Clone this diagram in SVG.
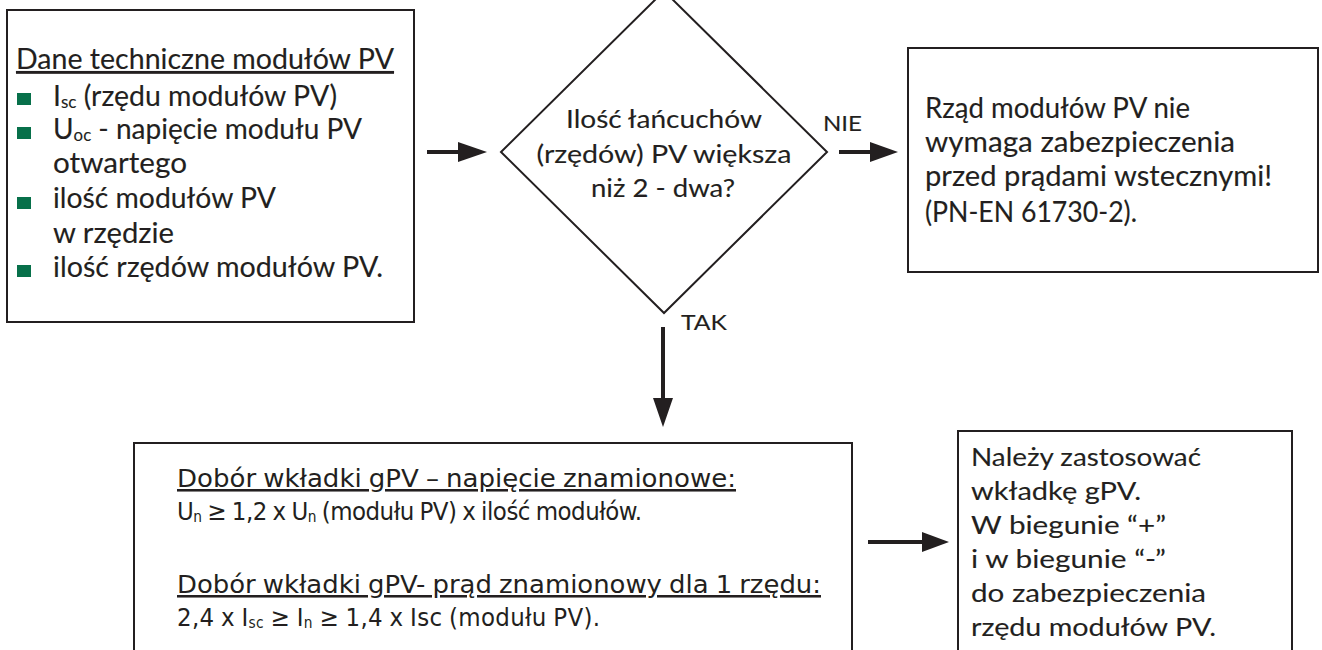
<svg xmlns="http://www.w3.org/2000/svg" width="1322" height="650" viewBox="0 0 1322 650">
  <style>
    .box { fill: #ffffff; stroke: #231f20; stroke-width: 2; }
    .t { font-family: "Lato", "Open Sans", "DejaVu Sans", sans-serif; fill: #231f20; stroke: #231f20; stroke-width: 0.12; }
    .big { font-size: 28px; }
    .mid { font-size: 25.5px; }
    .lbl { font-size: 22px; }
    .cond { font-family: "DejaVu Sans Condensed", "Liberation Sans", sans-serif; font-size: 25.5px; fill: #231f20; word-spacing: -1px; }
    .u { text-decoration: underline; }
    .bullet { fill: #07704a; }
    .sub { font-size: 60%; }
    .conn line { stroke: #231f20; stroke-width: 4; }
    .conn polygon { fill: #231f20; }
  </style>

  <rect width="1322" height="650" fill="#ffffff"/>

  <!-- input data box -->
  <g id="node-dane">
    <rect class="box" x="7" y="10" width="407" height="312"/>
    <text class="t big u" x="16" y="69" textLength="378" lengthAdjust="spacingAndGlyphs">Dane techniczne modułów PV</text>
    <rect class="bullet" x="17" y="93" width="14" height="12"/>
    <rect class="bullet" x="17" y="127" width="14" height="12"/>
    <rect class="bullet" x="17" y="197" width="14" height="12"/>
    <rect class="bullet" x="17" y="265" width="14" height="12"/>
    <text class="t big" x="53" y="106" textLength="284" lengthAdjust="spacingAndGlyphs">I<tspan class="sub" dy="2">sc</tspan><tspan dy="-2"> (rzędu modułów PV)</tspan></text>
    <text class="t big" x="53" y="139" textLength="309" lengthAdjust="spacingAndGlyphs">U<tspan class="sub" dy="2">oc</tspan><tspan dy="-2"> - napięcie modułu PV</tspan></text>
    <text class="t big" x="53" y="173" textLength="134" lengthAdjust="spacingAndGlyphs">otwartego</text>
    <text class="t big" x="53" y="208" textLength="223" lengthAdjust="spacingAndGlyphs">ilość modułów PV</text>
    <text class="t big" x="53" y="243" textLength="121" lengthAdjust="spacingAndGlyphs">w rzędzie</text>
    <text class="t big" x="53" y="277" textLength="330" lengthAdjust="spacingAndGlyphs">ilość rzędów modułów PV.</text>
  </g>

  <!-- decision -->
  <g id="node-decyzja">
    <polygon class="box" points="664,-9 827,152 664,313 501,152"/>
    <text class="t mid" x="664" y="128" text-anchor="middle" textLength="196" lengthAdjust="spacingAndGlyphs">Ilość łańcuchów</text>
    <text class="t mid" x="664" y="163" text-anchor="middle" textLength="255" lengthAdjust="spacingAndGlyphs">(rzędów) PV większa</text>
    <text class="t mid" x="663" y="197" text-anchor="middle" textLength="144" lengthAdjust="spacingAndGlyphs">niż 2 - dwa?</text>
  </g>

  <!-- NIE branch result -->
  <g id="node-nie">
    <rect class="box" x="908" y="48" width="410" height="224"/>
    <text class="t big" x="925" y="118" textLength="265" lengthAdjust="spacingAndGlyphs">Rząd modułów PV nie</text>
    <text class="t big" x="925" y="152" textLength="310" lengthAdjust="spacingAndGlyphs">wymaga zabezpieczenia</text>
    <text class="t big" x="925" y="186" textLength="347" lengthAdjust="spacingAndGlyphs">przed prądami wstecznymi!</text>
    <text class="t big" x="925" y="222" textLength="212" lengthAdjust="spacingAndGlyphs">(PN-EN 61730-2).</text>
  </g>

  <!-- fuse selection -->
  <g id="node-dobor">
    <rect class="box" x="134" y="443" width="718" height="230"/>
    <text class="cond u" x="177" y="487" textLength="559" lengthAdjust="spacingAndGlyphs">Dobór wkładki gPV – napięcie znamionowe:</text>
    <text class="cond" x="177" y="520" textLength="465" lengthAdjust="spacing">U<tspan class="sub" dy="2">n</tspan><tspan dy="-2"> ≥ 1,2 x U</tspan><tspan class="sub" dy="2">n</tspan><tspan dy="-2"> (modułu PV) x ilość modułów.</tspan></text>
    <text class="cond u" x="177" y="593" textLength="644" lengthAdjust="spacingAndGlyphs">Dobór wkładki gPV- prąd znamionowy dla 1 rzędu:</text>
    <text class="cond" x="177" y="626" textLength="423" lengthAdjust="spacing">2,4 x I<tspan class="sub" dy="2">sc</tspan><tspan dy="-2"> ≥ I</tspan><tspan class="sub" dy="2">n</tspan><tspan dy="-2"> ≥ 1,4 x Isc (modułu PV).</tspan></text>
  </g>

  <!-- final recommendation -->
  <g id="node-wkladka">
    <rect class="box" x="958" y="431" width="334" height="240"/>
    <text class="t mid" x="971" y="466" textLength="230" lengthAdjust="spacingAndGlyphs">Należy zastosować</text>
    <text class="t mid" x="971" y="500" textLength="170" lengthAdjust="spacingAndGlyphs">wkładkę gPV.</text>
    <text class="t mid" x="971" y="534" textLength="195" lengthAdjust="spacingAndGlyphs">W biegunie “+”</text>
    <text class="t mid" x="971" y="568" textLength="195" lengthAdjust="spacingAndGlyphs">i w biegunie “-”</text>
    <text class="t mid" x="971" y="602" textLength="235" lengthAdjust="spacingAndGlyphs">do zabezpieczenia</text>
    <text class="t mid" x="971" y="636" textLength="245" lengthAdjust="spacingAndGlyphs">rzędu modułów PV.</text>
  </g>

  <!-- connectors -->
  <g id="connectors" class="conn">
    <line x1="427" y1="152" x2="460" y2="152"/>
    <polygon points="458,142 487,152 458,162"/>

    <line x1="839" y1="152" x2="872" y2="152"/>
    <polygon points="870,142 898,152 870,162"/>

    <line x1="663" y1="327" x2="663" y2="400"/>
    <polygon points="653,398 673,398 663,427"/>

    <line x1="868" y1="542" x2="924" y2="542"/>
    <polygon points="922,532 949,542 922,552"/>

    <text class="t lbl" x="823" y="131" textLength="39" lengthAdjust="spacingAndGlyphs">NIE</text>
    <text class="t lbl" x="681" y="330" textLength="46" lengthAdjust="spacingAndGlyphs">TAK</text>
  </g>
</svg>
